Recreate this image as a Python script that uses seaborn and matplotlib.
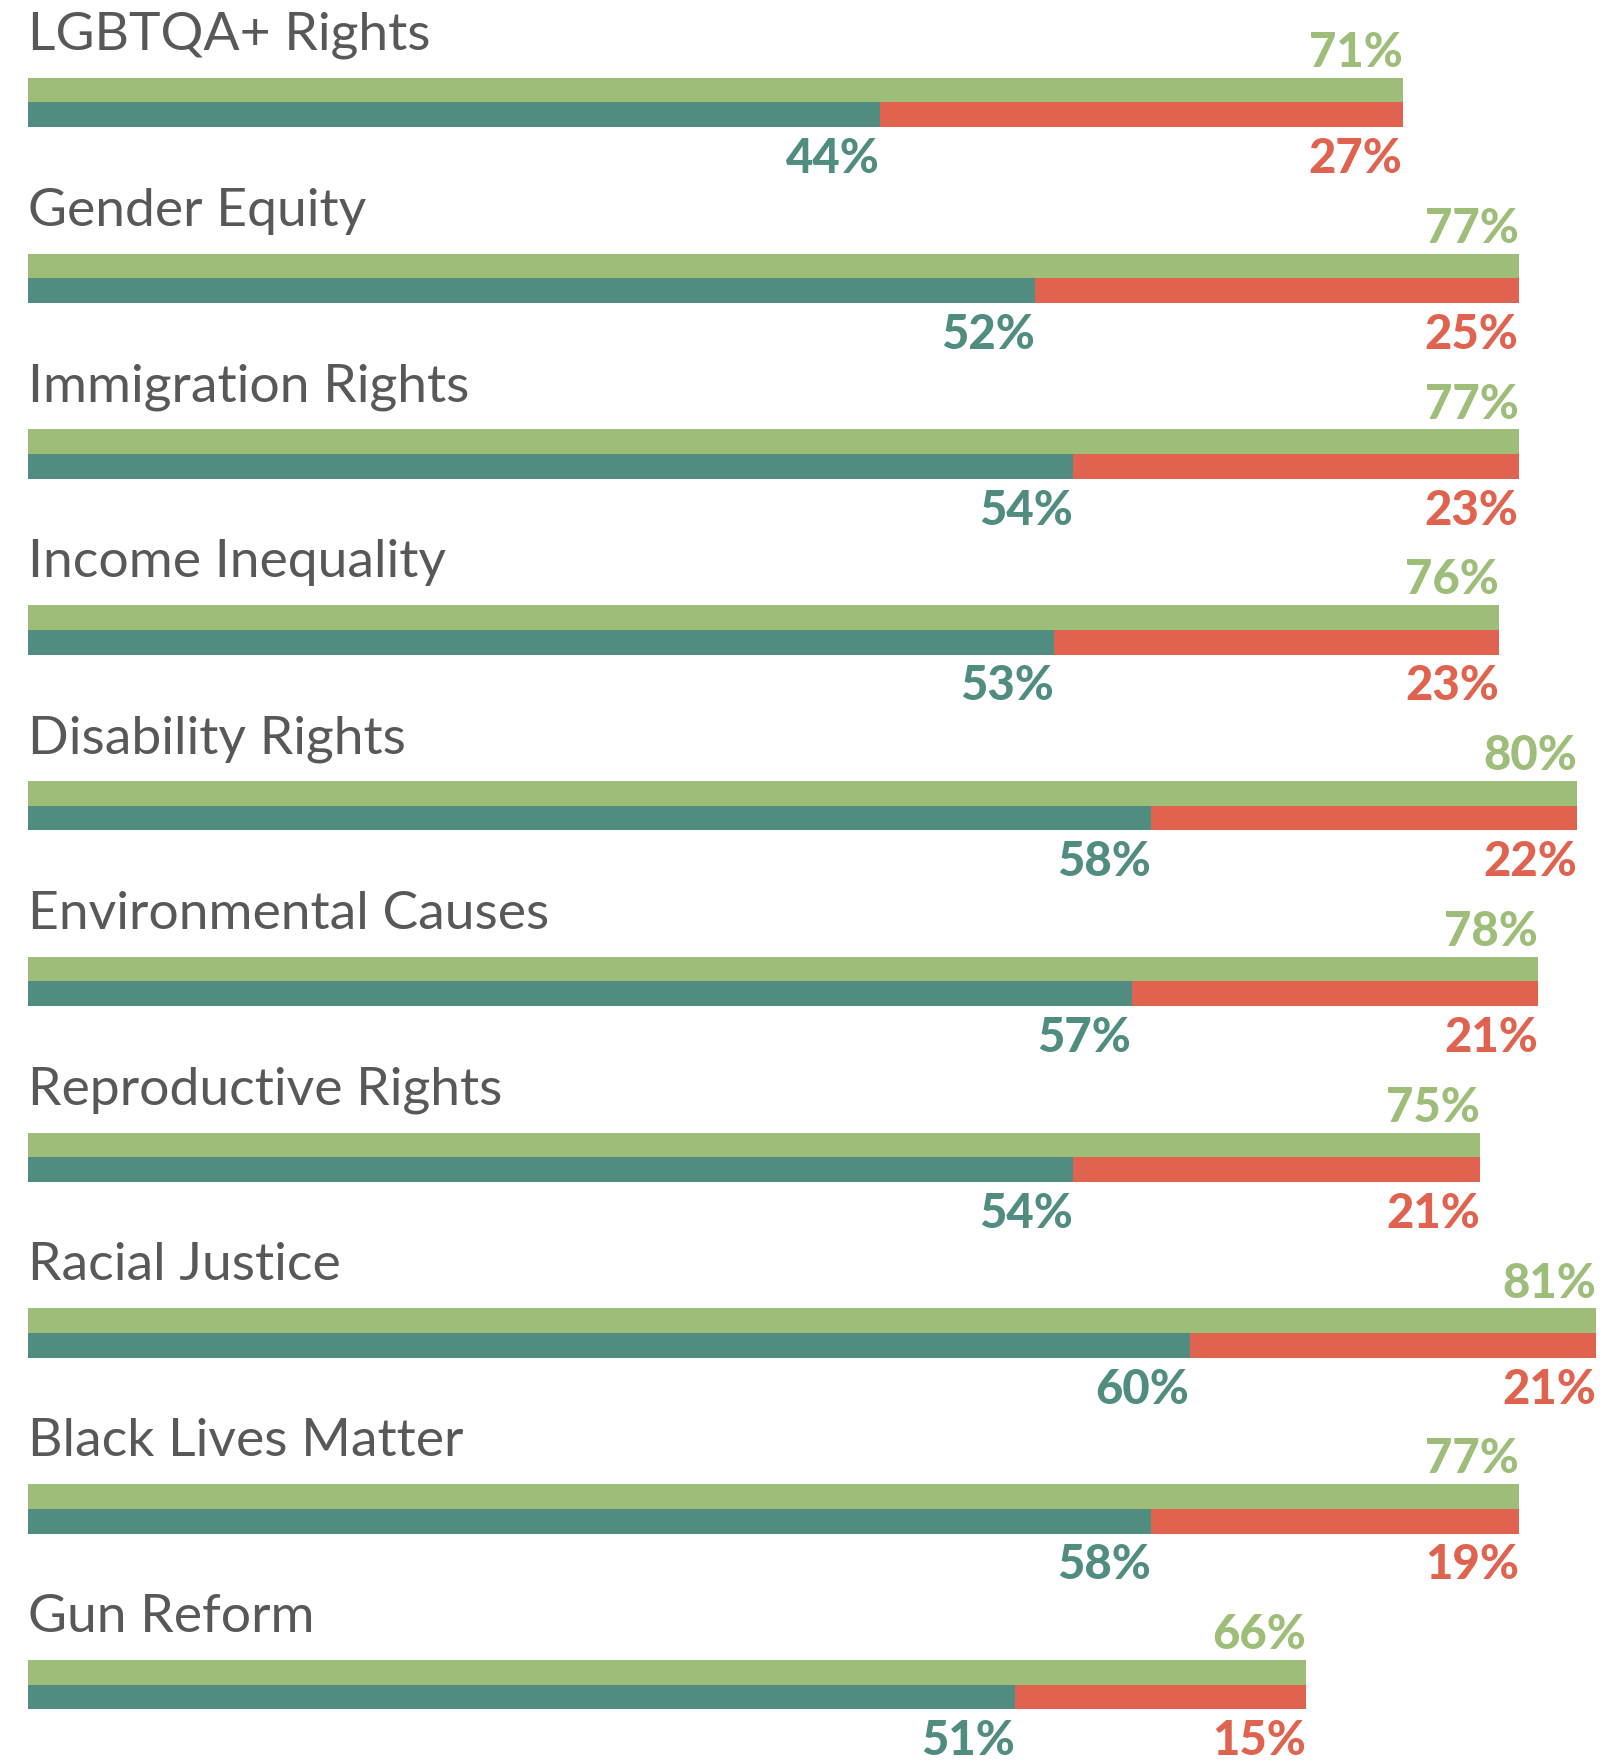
import matplotlib
matplotlib.use("Agg")
import matplotlib.pyplot as plt
import seaborn as sns
import pandas as pd

# Support for social causes: overall share, split into strong and moderate support
issues = ["LGBTQA+ Rights", "Gender Equity", "Immigration Rights", "Income Inequality",
          "Disability Rights", "Environmental Causes", "Reproductive Rights",
          "Racial Justice", "Black Lives Matter", "Gun Reform"]
total = [71, 77, 77, 76, 80, 78, 75, 81, 77, 66]
strong = [44, 52, 54, 53, 58, 57, 54, 60, 58, 51]
moderate = [27, 25, 23, 23, 22, 21, 21, 21, 19, 15]

GREEN = "#9dbd79"
TEAL = "#518c81"
RED = "#df634e"
GRAY = "#58585a"

sns.set_theme(style="white")
plt.rcParams["font.family"] = ["Lato", "DejaVu Sans"]

fig = plt.figure(figsize=(16.14, 17.62), dpi=100)
ax = fig.add_axes([28 / 1614, 0, 1 - 28 / 1614, 1])

levels = ["total", "lower"]
bar_w = 0.281

# top bar: overall support (green); bottom bar: full length in red,
# the strong-support part is drawn over it in teal
base = pd.DataFrame({
    "issue": issues * 2,
    "value": total + total,
    "kind": ["total"] * len(issues) + ["lower"] * len(issues),
})
sns.barplot(data=base, y="issue", x="value", hue="kind", hue_order=levels,
            palette={"total": GREEN, "lower": RED}, order=issues, orient="h",
            width=bar_w, dodge=True, legend=False, errorbar=None,
            saturation=1, linewidth=0, ax=ax)

over = pd.DataFrame({
    "issue": issues * 2,
    "value": [0] * len(issues) + strong,
    "kind": ["total"] * len(issues) + ["lower"] * len(issues),
})
sns.barplot(data=over, y="issue", x="value", hue="kind", hue_order=levels,
            palette={"total": GREEN, "lower": TEAL}, order=issues, orient="h",
            width=bar_w, dodge=True, legend=False, errorbar=None,
            saturation=1, linewidth=0, ax=ax)

for i, name in enumerate(issues):
    ax.text(0.02, i - 0.299, name, ha="left", va="baseline",
            fontsize=38.5, color=GRAY)
    ax.text(total[i], i - 0.202, f"{total[i]}%", ha="right", va="baseline",
            fontsize=34, fontweight="black", color=GREEN)
    ax.text(strong[i], i + 0.401, f"{strong[i]}%", ha="right", va="baseline",
            fontsize=34, fontweight="black", color=TEAL)
    ax.text(total[i], i + 0.401, f"{moderate[i]}%", ha="right", va="baseline",
            fontsize=34, fontweight="black", color=RED)

ax.set_xlim(0, 1586 / 19.36)
ax.set_ylim(9.44, -0.583)
ax.set_axis_off()

fig.savefig("out.png", dpi=100, facecolor="white")
